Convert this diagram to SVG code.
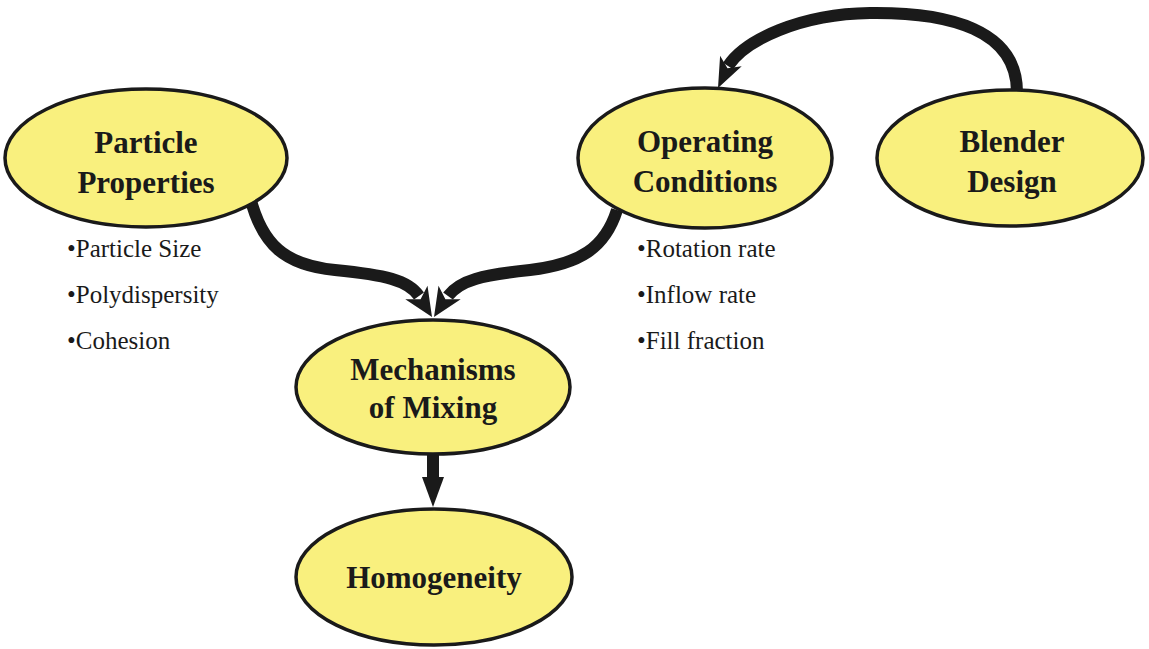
<svg xmlns="http://www.w3.org/2000/svg" width="1149" height="649" viewBox="0 0 1149 649">
<style>
.node ellipse{fill:#f9f07e;stroke:#1a1a1a;stroke-width:3.5}
.t{font-family:"Liberation Serif",serif;font-weight:bold;font-size:31px;fill:#1a1a1a;text-anchor:middle}
.b{font-family:"Liberation Serif",serif;font-size:25px;fill:#1a1a1a}
.c{fill:none;stroke:#1a1a1a;stroke-width:12}
.h{fill:#1a1a1a}
</style>
<rect width="1149" height="649" fill="#fff"/>
<g id="connectors">
<path class="c" d="M1017,92 C1017,30 950,12 870,13 C800,14 745,40 728,66"/>
<path class="h" d="M718,88 L720.1,55.8 L727.5,68.2 L741.7,66.2 Z"/>
<path class="c" d="M250,197 C262,245 285,265 335,270 C385,275 408,280 419,296"/>
<path class="h" d="M432,317 L405.3,299.3 L420.6,299.3 L427.5,285.7 Z"/>
<path class="c" d="M617,210 C605,248 580,264 530,270 C482,275 460,280 448,296"/>
<path class="h" d="M434,317 L438.5,285.7 L445.4,299.3 L460.7,299.3 Z"/>
<path class="c" d="M433,455 L433,480" stroke-width="11"/>
<path class="h" d="M433,507 L422,477 L444,477 Z"/>
</g>
<g id="particle" class="node">
<ellipse cx="146" cy="158" rx="141" ry="69"/>
<text class="t" x="146" y="153">Particle</text>
<text class="t" x="146" y="193">Properties</text>
</g>
<g id="operating" class="node">
<ellipse cx="705" cy="158" rx="127" ry="70"/>
<text class="t" x="705" y="152">Operating</text>
<text class="t" x="705" y="192">Conditions</text>
</g>
<g id="blender" class="node">
<ellipse cx="1010" cy="158" rx="133" ry="68"/>
<text class="t" x="1012" y="152">Blender</text>
<text class="t" x="1012" y="192">Design</text>
</g>
<g id="mechanisms" class="node">
<ellipse cx="433" cy="387" rx="137" ry="67"/>
<text class="t" x="433" y="380">Mechanisms</text>
<text class="t" x="433" y="418">of Mixing</text>
</g>
<g id="homogeneity" class="node">
<ellipse cx="434" cy="577" rx="138" ry="68"/>
<text class="t" x="434" y="588">Homogeneity</text>
</g>
<g id="particle-bullets">
<text class="b" x="67" y="257">•Particle Size</text>
<text class="b" x="67" y="303">•Polydispersity</text>
<text class="b" x="67" y="349">•Cohesion</text>
</g>
<g id="operating-bullets">
<text class="b" x="637" y="257">•Rotation rate</text>
<text class="b" x="637" y="303">•Inflow rate</text>
<text class="b" x="637" y="349">•Fill fraction</text>
</g>
</svg>
